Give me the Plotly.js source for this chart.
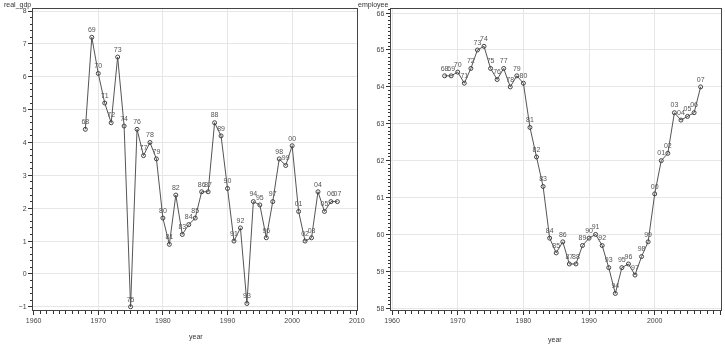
<!DOCTYPE html>
<html>
<head>
<meta charset="utf-8">
<script src="https://cdn.plot.ly/plotly-3.0.1.min.js"></script>
<style>
html,body{margin:0;padding:0;background:#fff;}
#chart{width:725px;height:348px;will-change:transform;}
#chart svg{will-change:transform;}
</style>
</head>
<body>
<div id="chart"></div>
<script>
const years = [1968,1969,1970,1971,1972,1973,1974,1975,1976,1977,1978,1979,1980,1981,1982,1983,1984,1985,1986,1987,1988,1989,1990,1991,1992,1993,1994,1995,1996,1997,1998,1999,2000,2001,2002,2003,2004,2005,2006,2007];
const realGdp = [4.4,7.2,6.1,5.2,4.6,6.6,4.5,-1.0,4.4,3.6,4.0,3.5,1.7,0.9,2.4,1.2,1.5,1.7,2.5,2.5,4.6,4.2,2.6,1.0,1.4,-0.9,2.2,2.1,1.1,2.2,3.5,3.3,3.9,1.9,1.0,1.1,2.5,1.9,2.2,2.2];
const employee = [64.3,64.3,64.4,64.1,64.5,65.0,65.1,64.5,64.2,64.5,64.0,64.3,64.1,62.9,62.1,61.3,59.9,59.5,59.8,59.2,59.2,59.7,59.9,60.0,59.7,59.1,58.4,59.1,59.2,58.9,59.4,59.8,61.1,62.0,62.2,63.3,63.1,63.2,63.3,64.0];
const yearLabels = years.map(y => String(y % 100).padStart(2, '0'));

const FONT = 'Liberation Sans, Arial, sans-serif';
const markStyle = {
  mode: 'lines+markers+text',
  textposition: 'top center',
  textfont: {family: FONT, size: 7, color: '#555'},
  line: {color: '#555', width: 1},
  marker: {symbol: 'circle-open', size: 4, color: '#444', line: {width: 1, color: '#444'}},
  cliponaxis: false,
  hoverinfo: 'skip'
};

const traces = [
  Object.assign({x: years, y: realGdp, text: yearLabels, xaxis: 'x', yaxis: 'y'}, markStyle),
  Object.assign({x: years, y: employee, text: yearLabels, xaxis: 'x2', yaxis: 'y2'}, markStyle)
];

function xAxis(domain, anchor, range) {
  return {
    domain: domain, anchor: anchor, range: range,
    tickvals: [1960,1970,1980,1990,2000,2010],
    ticks: 'outside', ticklen: 4, tickcolor: '#333',
    minor: {dtick: 1, tick0: 1960, ticks: 'outside', ticklen: 3, tickcolor: '#333', showgrid: false},
    showgrid: true, gridcolor: '#e6e6e6', gridwidth: 1,
    showline: true, linecolor: '#444', linewidth: 1, mirror: true,
    tickfont: {family: FONT, size: 7, color: '#444'},
    zeroline: false
  };
}
function yAxis(domain, anchor, range, dtick, minorDtick) {
  return {
    domain: domain, anchor: anchor, range: range,
    dtick: dtick, tick0: 0,
    ticks: 'outside', ticklen: 4, tickcolor: '#333',
    minor: {dtick: minorDtick, ticks: 'outside', ticklen: 2, tickcolor: '#333', showgrid: false},
    showgrid: true, gridcolor: '#e6e6e6', gridwidth: 1,
    showline: true, linecolor: '#444', linewidth: 1, mirror: true,
    tickfont: {family: FONT, size: 7, color: '#444'},
    zeroline: false
  };
}

const layout = {
  width: 725, height: 348,
  margin: {l: 0, r: 0, t: 0, b: 0},
  paper_bgcolor: '#fff', plot_bgcolor: '#fff',
  showlegend: false,
  xaxis: xAxis([0.0455, 0.493], 'y', [1959.9, 2010.1]),
  yaxis: yAxis([0.109, 0.974], 'x', [-1.10, 8.06], 1, 0.2),
  xaxis2: xAxis([0.539, 0.9945], 'y2', [1959.8, 2010.1]),
  yaxis2: yAxis([0.109, 0.974], 'x2', [57.95, 66.11], 1, 0.1),
  annotations: [
    {text: 'real_gdp', xref: 'paper', yref: 'paper', x: 0.024, y: 0.985, xanchor: 'center', yanchor: 'middle', showarrow: false, font: {family: FONT, size: 7, color: '#333'}},
    {text: 'employee', xref: 'paper', yref: 'paper', x: 0.514, y: 0.985, xanchor: 'center', yanchor: 'middle', showarrow: false, font: {family: FONT, size: 7, color: '#333'}},
    {text: 'year', xref: 'paper', yref: 'paper', x: 0.27, y: 1 - 337/348, xanchor: 'center', yanchor: 'middle', showarrow: false, font: {family: FONT, size: 7, color: '#333'}},
    {text: 'year', xref: 'paper', yref: 'paper', x: 0.766, y: 1 - 340/348, xanchor: 'center', yanchor: 'middle', showarrow: false, font: {family: FONT, size: 7, color: '#333'}}
  ]
};

Plotly.newPlot('chart', traces, layout, {staticPlot: true, displayModeBar: false});
</script>
</body>
</html>
